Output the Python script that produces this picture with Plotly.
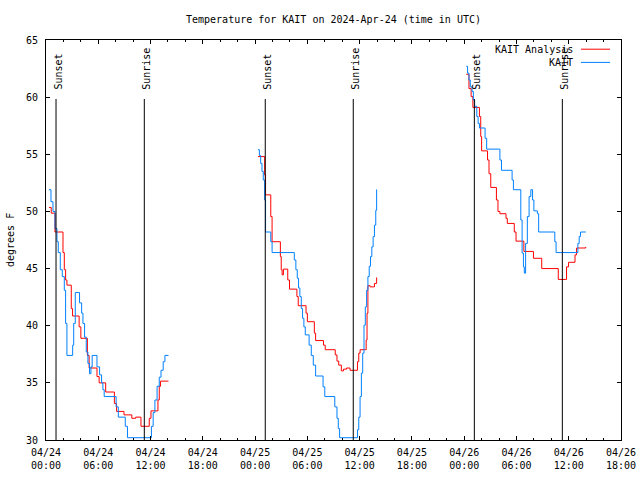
import pandas as pd
import plotly.graph_objects as go

BASE = "2024-04-24 00:00"

# ---- data (hours after 2024-04-24 00:00 UTC, degrees F) ----
analysis_h1 = [0.34, 0.6, 1.03, 1.95, 2.1, 2.25, 2.4, 2.9, 3.05, 3.8, 4.0, 4.75, 4.95, 5.85, 6.1, 6.85,
               7.85, 8.1, 8.95, 9.85, 10.3, 10.9, 11.85, 12.05, 12.85, 13.0, 13.15, 14.06]
analysis_v1 = [50.35, 49.85, 48.2, 46.4, 44.9, 44.0, 43.55, 41.5, 40.85, 39.9, 38.9, 37.4, 36.3, 35.55, 35.0, 34.2,
               33.2, 32.5, 32.2, 31.9, 32.0, 31.2, 31.9, 32.55, 33.5, 34.7, 35.15, 35.15]
analysis_h2 = [24.33, 25.1, 25.2, 25.8, 25.95, 26.9, 27.0, 27.1, 27.25, 27.75, 27.95, 28.8, 28.95, 29.85, 30.0,
               30.8, 30.95, 31.85, 32.05, 33.2, 33.4, 33.6, 33.9, 34.15, 34.5, 34.9, 35.75, 35.9, 36.05, 36.75,
               36.85, 36.95, 37.2, 37.7, 37.95, 38.0]
analysis_v2 = [54.8, 53.2, 51.45, 49.55, 47.35, 46.05, 44.9, 44.45, 44.95, 44.0, 43.2, 42.55, 41.75, 41.1, 40.35,
               39.35, 38.7, 38.3, 37.9, 37.45, 36.9, 36.55, 36.05, 36.2, 36.3, 36.1, 36.85, 37.6, 37.9, 38.75,
               41.1, 43.5, 43.4, 43.7, 44.2, 44.2]
analysis_h3 = [48.24, 48.55, 48.8, 49.0, 49.75, 49.9, 50.0, 50.68, 50.85, 51.05, 51.7, 51.88, 52.1, 52.8, 52.95,
               53.75, 53.95, 54.85, 55.95, 56.9, 58.8, 59.75, 59.98, 60.72, 60.9, 61.95]
analysis_v3 = [62.0, 60.75, 60.05, 59.1, 58.3, 56.55, 55.3, 54.5, 53.3, 52.1, 51.0, 50.0, 49.8, 49.4, 48.95,
               48.2, 47.4, 46.5, 45.9, 45.0, 44.05, 45.15, 45.55, 46.2, 46.8, 46.9]

kait_h1 = [0.34, 0.57, 0.8, 1.03, 1.26, 1.41, 1.64, 1.87, 2.1, 2.25, 2.4, 3.06, 3.18, 3.36, 3.85, 4.09, 4.24,
           4.43, 4.62, 4.81, 5.0, 5.16, 5.3, 5.85, 6.15, 6.38, 6.53, 6.68, 8.05, 8.3, 9.1, 9.35, 12.1, 12.3,
           12.5, 12.75, 13.0, 13.2, 13.45, 13.65, 14.06]
kait_v1 = [51.9, 50.85, 50.0, 48.5, 47.35, 46.4, 44.9, 44.3, 43.1, 40.2, 37.4, 38.3, 40.2, 42.9, 42.0, 41.1, 40.2,
           39.0, 37.7, 36.7, 35.8, 36.4, 37.4, 36.4, 35.7, 35.0, 34.4, 33.8, 32.9, 32.0, 31.2, 30.2, 31.2, 32.4,
           33.5, 34.7, 35.5, 36.1, 36.85, 37.4, 37.4]
kait_h2 = [24.33, 24.49, 24.64, 24.79, 24.94, 25.1, 25.2, 25.8, 25.95, 28.5, 28.68, 28.84, 28.99, 29.14, 29.3,
           29.45, 29.6, 29.76, 30.2, 30.45, 30.68, 30.95, 31.8, 32.0, 33.15, 33.4, 33.55, 33.7, 35.75, 35.9,
           36.05, 36.2, 36.35, 36.5, 36.65, 36.8, 36.95, 37.1, 37.25, 37.4, 37.55, 37.7, 37.85, 37.95, 38.0]
kait_v2 = [55.4, 54.9, 54.2, 53.5, 52.75, 51.0, 48.2, 47.35, 46.4, 45.75, 44.9, 44.15, 43.3, 42.55, 41.5,
           40.65, 39.9, 39.2, 38.3, 37.4, 36.55, 35.6, 34.65, 33.8, 32.9, 31.9, 31.0, 30.2, 30.9, 32.0,
           33.8, 35.85, 37.6, 40.05, 41.65, 43.1, 44.3, 45.2, 46.05, 46.9, 47.8, 48.8, 50.1, 51.9, 51.9]
kait_h3 = [48.24, 48.39, 48.55, 48.7, 48.9, 49.05, 49.2, 49.45, 49.6, 49.75, 50.4, 50.58, 52.1, 52.28, 53.5,
           53.65, 54.5, 54.65, 54.8, 54.9, 55.05, 55.25, 55.45, 55.65, 55.85, 56.0, 56.4, 56.55, 58.4, 58.55,
           61.05, 61.2, 61.35, 61.95]
kait_v3 = [62.7, 62.1, 61.5, 60.9, 60.5, 59.75, 59.2, 58.3, 57.7, 57.3, 56.4, 55.45, 54.5, 53.6, 52.75,
           51.9, 49.25, 46.35, 45.15, 44.6, 47.2, 49.55, 51.3, 51.9, 51.0, 50.05, 49.8, 48.2, 47.35, 46.4,
           47.2, 47.8, 48.2, 48.2]

event_times = ["2024-04-24 01:09", "2024-04-24 11:17", "2024-04-25 01:10",
               "2024-04-25 11:16", "2024-04-26 01:10", "2024-04-26 11:16"]
event_labels = ["Sunset", "Sunrise", "Sunset", "Sunrise", "Sunset", "Sunrise"]

series_names = ["KAIT Analysis", "KAIT"]
series_colors = ["#ff0000", "#0080ff"]

x_range = ["2024-04-24 00:00", "2024-04-26 18:00"]
y_range = [30, 65]

FONT = "DejaVu Sans Mono"


def join_segments(hs, vs):
    xs, ys = [], []
    base = pd.Timestamp(BASE)
    for i, (h, v) in enumerate(zip(hs, vs)):
        if i > 0:
            xs.append(base + pd.to_timedelta(h[0] - 0.5, unit="h"))
            ys.append(None)
        xs.extend(base + pd.to_timedelta(pd.Series(h), unit="h"))
        ys.extend(v)
    return xs, ys


ax, ay = join_segments([analysis_h1, analysis_h2, analysis_h3], [analysis_v1, analysis_v2, analysis_v3])
kx, ky = join_segments([kait_h1, kait_h2, kait_h3], [kait_v1, kait_v2, kait_v3])

fig = go.Figure()
for (xs, ys), name, col in zip([(ax, ay), (kx, ky)], series_names, series_colors):
    fig.add_trace(go.Scatter(x=xs, y=ys, mode="lines", name=name,
                             line=dict(color=col, width=1, shape="hv"),
                             connectgaps=False, showlegend=False))

label_y = 60.45
line_top = 59.84
for t, lab in zip(event_times, event_labels):
    fig.add_shape(type="line", xref="x", yref="y", x0=t, x1=t, y0=y_range[0], y1=line_top,
                  line=dict(color="black", width=1))
    fig.add_annotation(x=t, y=label_y, xref="x", yref="y", text=lab, showarrow=False,
                       textangle=-90, xanchor="center", yanchor="bottom", xshift=1.5,
                       font=dict(family=FONT, size=10, color="black"))

# legend (drawn manually, gnuplot style: text then line sample)
leg_y = [0.977, 0.944]
for name, col, yy in zip(series_names, series_colors, leg_y):
    fig.add_annotation(x=0.92, y=yy, xref="paper", yref="paper", text=name, showarrow=False,
                       xanchor="right", yanchor="middle", font=dict(family=FONT, size=10, color="black"))
    fig.add_shape(type="line", xref="paper", yref="paper", x0=0.9304, x1=0.9809, y0=yy, y1=yy,
                  line=dict(color=col, width=1))

fig.add_annotation(x=-0.0626, y=0.5, xref="paper", yref="paper", text="degrees F", showarrow=False,
                   textangle=-90, xanchor="center", yanchor="middle",
                   font=dict(family=FONT, size=10, color="black"))

fig.update_layout(
    width=640, height=480,
    margin=dict(l=46, r=19, t=40, b=40, autoexpand=False),
    paper_bgcolor="white", plot_bgcolor="white",
    title=dict(text="Temperature for KAIT on 2024-Apr-24 (time in UTC)", x=0.5, xref="paper",
               y=1 - 19 / 480, yanchor="middle", xanchor="center",
               font=dict(family=FONT, size=10, color="black")),
    font=dict(family=FONT, size=10, color="black"),
)
fig.update_xaxes(range=x_range, type="date", dtick=6 * 3600 * 1000, tick0="2024-04-24 00:00",
                 tickformat="%m/%d<br>%H:%M", ticks="inside", ticklen=4, tickcolor="black",
                 showline=True, linecolor="black", linewidth=1, mirror="allticks",
                 showgrid=False, zeroline=False, automargin=False, ticklabelstandoff=3,
                 minor=dict(dtick=2 * 3600 * 1000, ticks="inside", ticklen=2, tickcolor="black", showgrid=False),
                 tickfont=dict(family=FONT, size=10, color="black"))
fig.update_yaxes(range=y_range, dtick=5, ticks="inside", ticklen=4, tickcolor="black",
                 showline=True, linecolor="black", linewidth=1, mirror="allticks",
                 showgrid=False, zeroline=False, automargin=False, ticklabelstandoff=5,
                 tickfont=dict(family=FONT, size=10, color="black"))

fig.write_html("out.html", config={"displayModeBar": False},
               post_script="document.body.style.margin='0';document.body.style.padding='0';")
